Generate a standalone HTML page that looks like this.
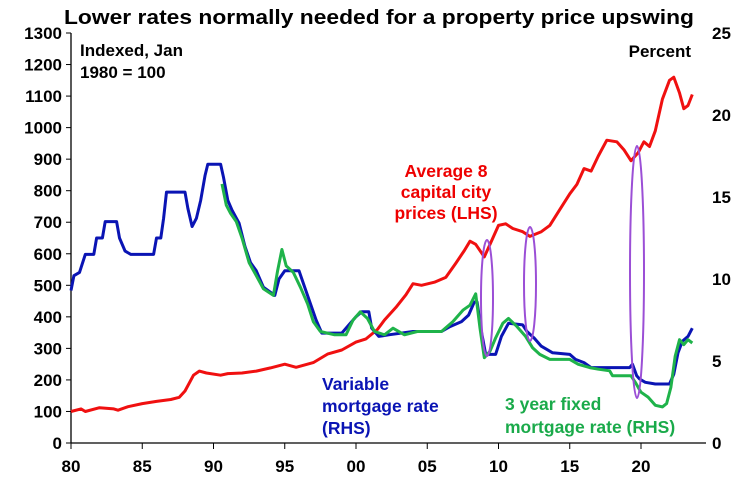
<!DOCTYPE html>
<html><head><meta charset="utf-8"><style>
body{margin:0;background:#fff;}
svg{display:block;font-family:"Liberation Sans",Arial,sans-serif;font-weight:bold;}
</style></head><body>
<svg id="s" width="749" height="488" viewBox="0 0 749 488">
<text x="64" y="24" font-size="20" textLength="630" lengthAdjust="spacingAndGlyphs" fill="#000">Lower rates normally needed for a property price upswing</text>
<g stroke="#000" stroke-width="1.3">
<line x1="71" y1="33" x2="71" y2="443"/>
<line x1="71" y1="443" x2="706" y2="443"/>
</g>
<g id="ticks" stroke="#000" stroke-width="1"></g>
<g id="labs" font-size="17" fill="#000"></g>
<text x="80" y="56" font-size="17">Indexed, Jan</text>
<text x="80" y="78" font-size="17">1980 = 100</text>
<text x="691" y="57" font-size="17" text-anchor="end">Percent</text>
<g id="lines" fill="none" stroke-width="3" stroke-linejoin="round"></g>
<g fill="none" stroke="#9b4fd6" stroke-width="2">
<ellipse cx="487" cy="298" rx="6" ry="58"/>
<ellipse cx="530" cy="284" rx="6" ry="57"/>
<ellipse cx="637" cy="272" rx="7" ry="126"/>
</g>
<g font-size="17.5" fill="#e00" text-anchor="middle">
<text x="446" y="177">Average 8</text>
<text x="446" y="198">capital city</text>
<text x="446" y="219">prices (LHS)</text>
</g>
<g font-size="17.5" fill="#0a14b4">
<text x="322" y="390">Variable</text>
<text x="322" y="412">mortgage rate</text>
<text x="322" y="434">(RHS)</text>
</g>
<g font-size="17.5" fill="#1aaa4a">
<text x="505" y="410">3 year fixed</text>
<text x="505" y="433">mortgage rate (RHS)</text>
</g>
</svg>
<script>
var X=function(y){return 71+(y-1980)*14.25;};
var L=function(v){return 443-v*410/1300;};
var R=function(v){return 443-v*16.4;};
var t=document.getElementById('ticks'),lb=document.getElementById('labs'),h='',g='';
for(var v=0;v<=1300;v+=100){var y=L(v);h+='<line x1="66" y1="'+y+'" x2="71" y2="'+y+'"/>';g+='<text x="62" y="'+(y+6)+'" text-anchor="end">'+v+'</text>';}
for(var r=0;r<=25;r+=5){g+='<text x="712" y="'+(R(r)+6)+'">'+r+'</text>';}
var yl=['80','85','90','95','00','05','10','15','20'];
for(var i=0;i<9;i++){var x=X(1980+5*i);h+='<line x1="'+x+'" y1="443" x2="'+x+'" y2="449"/>';g+='<text x="'+x+'" y="472" text-anchor="middle">'+yl[i]+'</text>';}
t.innerHTML=h;lb.innerHTML=g;
var red=[[1980,100],[1980.7,108],[1981,100],[1982,112],[1983,108],[1983.3,104],[1984,115],[1985,125],[1986,132],[1987,138],[1987.6,145],[1988,165],[1988.6,215],[1989,228],[1989.5,222],[1990.5,215],[1991,220],[1992,222],[1993,228],[1994,238],[1995,250],[1995.8,240],[1997,255],[1998,282],[1999,295],[2000,320],[2000.7,330],[2001.5,360],[2002,390],[2002.8,430],[2003.5,470],[2004,505],[2004.6,500],[2005.5,510],[2006.3,525],[2007,570],[2007.6,610],[2008,640],[2008.4,630],[2009,590],[2009.5,640],[2010,690],[2010.5,695],[2011,680],[2011.7,670],[2012.2,655],[2013,670],[2013.6,690],[2014.3,740],[2015,790],[2015.5,820],[2016,870],[2016.5,862],[2017,910],[2017.6,960],[2018.3,955],[2018.8,930],[2019.3,895],[2019.8,920],[2020.2,955],[2020.6,940],[2021,990],[2021.5,1090],[2022,1150],[2022.3,1160],[2022.7,1110],[2023,1060],[2023.3,1070],[2023.6,1105]];
var blue=[[1980,9.3],[1980.2,10.2],[1980.6,10.4],[1981,11.5],[1981.6,11.5],[1981.8,12.5],[1982.2,12.5],[1982.4,13.5],[1983.2,13.5],[1983.4,12.5],[1983.8,11.7],[1984.2,11.5],[1985.8,11.5],[1986,12.5],[1986.3,12.5],[1986.5,13.7],[1986.7,15.3],[1988,15.3],[1988.2,14.3],[1988.5,13.2],[1988.8,13.7],[1989.1,14.8],[1989.4,16.3],[1989.6,17],[1990.5,17],[1990.7,16.2],[1991,14.8],[1991.3,14.2],[1991.8,13.4],[1992.2,12],[1992.6,11],[1993,10.5],[1993.5,9.5],[1994.3,9],[1994.6,10],[1995,10.5],[1996,10.5],[1996.4,9.5],[1996.8,8.5],[1997.2,7.5],[1997.6,6.7],[1999,6.7],[1999.5,7.2],[2000,7.7],[2000.4,8],[2000.9,8],[2001.1,7],[2001.6,6.5],[2002.3,6.6],[2004,6.8],[2006,6.8],[2006.6,7.1],[2007.4,7.4],[2007.9,7.8],[2008.3,8.6],[2008.5,8.6],[2008.8,6.8],[2009.1,5.4],[2009.8,5.4],[2010.2,6.5],[2010.7,7.3],[2011.7,7.2],[2012,6.8],[2012.5,6.4],[2013,5.9],[2013.8,5.5],[2015,5.4],[2015.4,5.1],[2016,4.9],[2016.5,4.6],[2019.2,4.6],[2019.4,4.8],[2019.7,4.1],[2019.9,3.9],[2020.3,3.7],[2021,3.6],[2022,3.6],[2022.3,4.2],[2022.6,5.5],[2022.9,6.2],[2023.3,6.5],[2023.6,7]];
var green=[[1990.6,15.8],[1990.9,14.5],[1991.2,14],[1991.6,13.5],[1992,12.5],[1992.5,11],[1993,10.2],[1993.5,9.4],[1994.2,9],[1994.5,10.5],[1994.8,11.8],[1995.1,10.8],[1995.6,10.4],[1996.1,9.5],[1996.6,8.5],[1997,7.4],[1997.5,6.8],[1998.5,6.6],[1999.3,6.6],[1999.8,7.5],[2000.3,8],[2000.8,7.6],[2001.3,6.8],[2002,6.6],[2002.6,7],[2003.4,6.6],[2004.3,6.8],[2006,6.8],[2006.8,7.4],[2007.5,8.1],[2008,8.4],[2008.4,9.1],[2008.7,7],[2009,5.2],[2009.4,5.6],[2009.8,6.4],[2010.3,7.3],[2010.7,7.6],[2011.3,7.1],[2011.9,6.5],[2012.4,5.8],[2012.9,5.4],[2013.6,5.1],[2015,5.1],[2015.6,4.8],[2016.4,4.6],[2017,4.5],[2017.8,4.4],[2018,4.1],[2019.3,4.1],[2019.6,3.7],[2020,3.1],[2020.5,2.8],[2021,2.3],[2021.5,2.2],[2021.8,2.4],[2022.1,3.4],[2022.4,5.3],[2022.7,6.3],[2023,6],[2023.3,6.3],[2023.6,6.1]];
function pth(d,f,c){return '<polyline stroke="'+c+'" points="'+d.map(function(p){return X(p[0]).toFixed(1)+','+f(p[1]).toFixed(1);}).join(' ')+'"/>';}
document.getElementById('lines').innerHTML=pth(red,L,'#f01010')+pth(blue,R,'#0a14b4')+pth(green,R,'#1fb34a');
</script>
</body></html>
